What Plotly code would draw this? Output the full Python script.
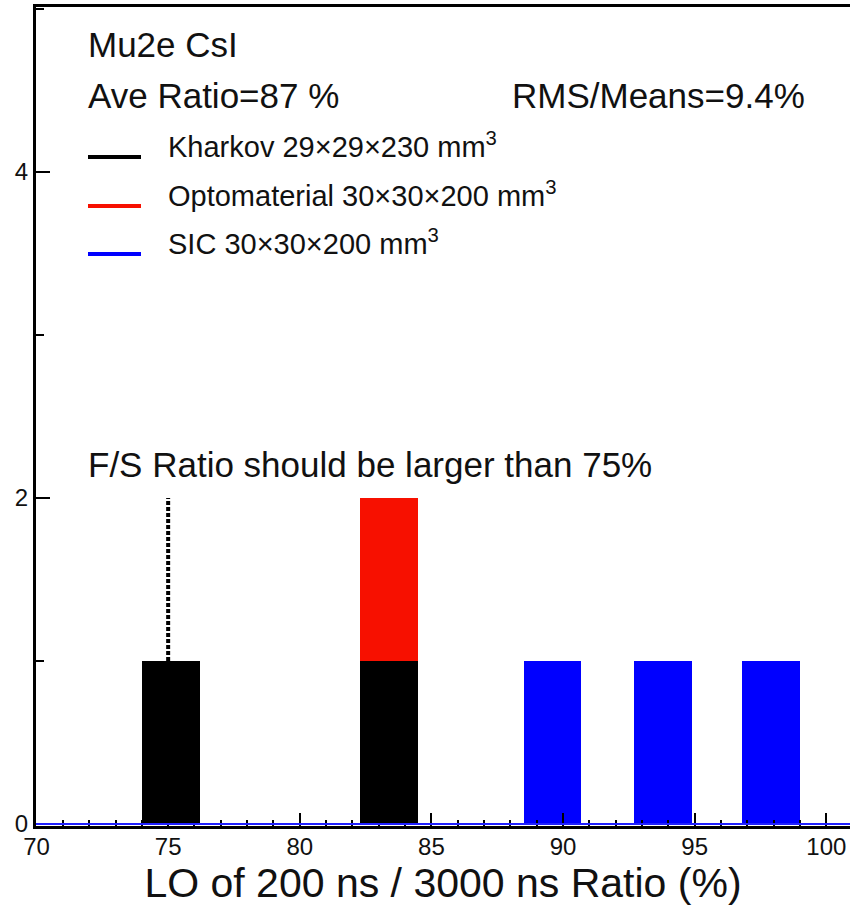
import plotly.graph_objects as go

# ---------------- data ----------------
series_names = ["Kharkov 29×29×230 mm<sup>3</sup>",
                "Optomaterial 30×30×200 mm<sup>3</sup>",
                "SIC 30×30×200 mm<sup>3</sup>"]
kharkov_x = [75.1, 83.4]
kharkov_y = [1, 1]
opto_x = [83.4]
opto_y = [1]
sic_x = [89.6, 93.8, 97.9]
sic_y = [1, 1, 1]
threshold_x = [75, 75]
threshold_y = [1, 2]
x_ticks = [70, 75, 80, 85, 90, 95, 100]
y_ticks = [0, 2, 4]
title_line1 = "Mu2e CsI"
ave_text = "Ave Ratio=87 %"
rms_text = "RMS/Means=9.4%"
note_text = "F/S Ratio should be larger than 75%"
x_title = "LO of 200 ns / 3000 ns Ratio (%)"

# ---------------- style ----------------
colors = ["#000000", "#f71000", "#0000ff"]
bar_width = 2.2
FONT = "Liberation Sans, Arial, sans-serif"
W, H = 850, 915
L, R, T, B = 36, 0, 7, 89
PW, PH = W - L - R, H - T - B


def px(x):
    return (x - L) / PW


def py(y):
    return (H - B - y) / PH


fig = go.Figure()
fig.add_trace(go.Bar(x=kharkov_x, y=kharkov_y, width=bar_width,
                     marker=dict(color=colors[0], line=dict(width=0)),
                     showlegend=False))
fig.add_trace(go.Bar(x=opto_x, y=opto_y, width=bar_width,
                     marker=dict(color=colors[1], line=dict(width=0)),
                     showlegend=False))
fig.add_trace(go.Bar(x=sic_x, y=sic_y, width=bar_width,
                     marker=dict(color=colors[2], line=dict(width=0)),
                     showlegend=False))
fig.add_trace(go.Scatter(x=threshold_x, y=threshold_y, mode="lines",
                         line=dict(color="black", width=4, dash="4px,2px"),
                         showlegend=False))

# blue histogram baseline at y = 0
fig.add_shape(type="line", xref="paper", x0=0, x1=1, yref="y", y0=0, y1=0,
              line=dict(color="#2020ff", width=2), layer="above")

annotations = []


def text(x, y, s, size):
    annotations.append(dict(x=px(x), y=py(y), xref="paper", yref="paper",
                            text=s, showarrow=False, xanchor="left",
                            yanchor="middle",
                            font=dict(family=FONT, size=size, color="#111111")))


text(86, 45, title_line1, 35)
text(86, 96, ave_text, 35)
text(510, 96, rms_text, 35)
text(86, 464, note_text, 35)

legend_y = [157, 206, 254]
for name, c, ly in zip(series_names, colors, legend_y):
    fig.add_shape(type="line", xref="paper", yref="paper",
                  x0=px(88), x1=px(141), y0=py(ly), y1=py(ly),
                  line=dict(color=c, width=4))
    text(166, ly - 12, name, 29)

fig.update_layout(
    width=W, height=H,
    margin=dict(l=L, r=R, t=T, b=B, pad=0),
    paper_bgcolor="white", plot_bgcolor="white",
    barmode="stack", bargap=0,
    annotations=annotations,
    font=dict(family=FONT, color="#111111"),
    showlegend=False,
)
fig.update_xaxes(
    range=[69.98, 100.9], tickvals=x_ticks, ticktext=[str(v) for v in x_ticks],
    ticks="inside", ticklen=13, tickwidth=2, tickcolor="black",
    minor=dict(ticks="inside", ticklen=6, tickwidth=2, tickcolor="black", dtick=1, tick0=70),
    showline=True, linewidth=3, linecolor="black", mirror=True,
    showgrid=False, zeroline=False, ticklabelstandoff=-3,
    tickfont=dict(family=FONT, size=24, color="#111111"),
    title=dict(text=x_title, font=dict(family=FONT, size=41, color="#111111"), standoff=6),
)
fig.update_yaxes(
    range=[-0.0123, 5.012], tickvals=y_ticks, ticktext=[str(v) for v in y_ticks],
    ticks="inside", ticklen=14, tickwidth=2, tickcolor="black",
    minor=dict(ticks="inside", ticklen=8, tickwidth=2, tickcolor="black", dtick=1, tick0=0),
    showline=True, linewidth=3, linecolor="black",
    showgrid=False, zeroline=False,
    tickfont=dict(family=FONT, size=24, color="#111111"),
)

fig.write_html("out.html",
               config={"displayModeBar": False},
               post_script="document.body.style.margin='0';"
                           "document.body.style.overflow='hidden';")
